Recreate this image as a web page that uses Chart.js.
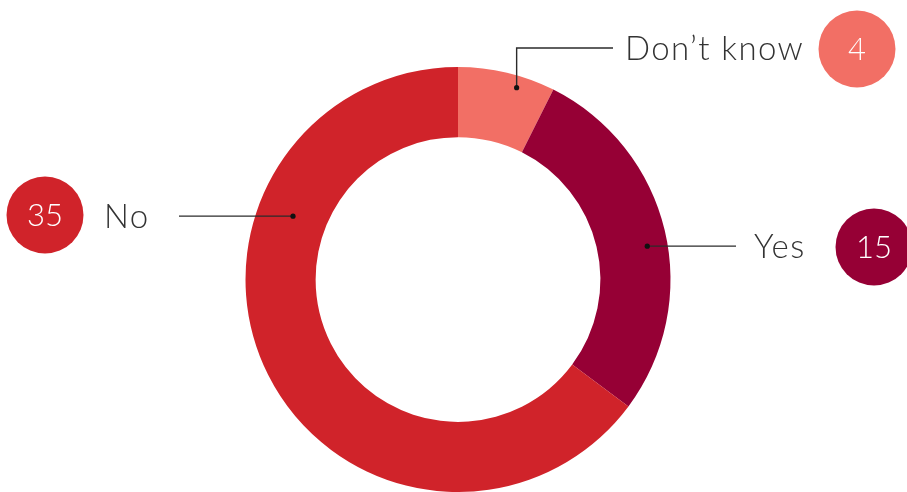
<!DOCTYPE html>
<html>
<head>
<meta charset="utf-8">
<script src="https://cdn.jsdelivr.net/npm/chart.js@4/dist/chart.umd.min.js"></script>
<style>
  html, body { margin: 0; padding: 0; background: #fff; }
  #wrap { width: 907px; height: 492px; position: relative; }
</style>
</head>
<body>
<div id="wrap"><canvas id="chart"></canvas></div>
<script>
const labels = ["Don\u2019t know", "Yes", "No"];
const values = [4, 15, 35];
const colors = ["#F26F65", "#960035", "#D0232A"];

/* Callouts: where the dot sits on the ring (degrees from top, depth in ring),
   and where the leader line, label and number badge go */
const callouts = [
    { angle: 17, depth: 0.83, elbowY: 48, lineEnd: 613, textX: 625, badgeX: 857, badgeY: 49 },
    { angle: 80, depth: 0.71, elbowY: null, lineEnd: 736, textX: 754, badgeX: 874, badgeY: 247 },
    { angle: 291, depth: 0.49, elbowY: null, lineEnd: 179, textX: 104, badgeX: 45, badgeY: 215 }
];

const calloutPlugin = {
    id: "callouts",
    afterDraw(chart) {
        const ctx = chart.ctx;
        const arcs = chart.getDatasetMeta(0).data;
        callouts.forEach((c, i) => {
            const arc = arcs[i];
            const r = arc.innerRadius + (arc.outerRadius - arc.innerRadius) * c.depth;
            const a = (c.angle - 90) * Math.PI / 180;
            const dx = arc.x + r * Math.cos(a);
            const dy = arc.y + r * Math.sin(a);
            const ly = c.elbowY !== null ? c.elbowY : dy;

            ctx.save();
            ctx.strokeStyle = "#2b2b2b";
            ctx.lineWidth = 1.4;
            ctx.beginPath();
            ctx.moveTo(dx, dy);
            if (c.elbowY !== null) ctx.lineTo(dx, ly);
            ctx.lineTo(c.lineEnd, ly);
            ctx.stroke();

            ctx.fillStyle = "#111";
            ctx.beginPath();
            ctx.arc(dx, dy, 2.6, 0, Math.PI * 2);
            ctx.fill();

            // label
            ctx.fillStyle = "#333";
            ctx.font = "300 33px Lato, 'Open Sans', sans-serif";
            ctx.letterSpacing = "1.4px";
            ctx.textAlign = "left";
            ctx.textBaseline = "middle";
            ctx.fillText(labels[i], c.textX, ly + 1);

            // number badge
            ctx.fillStyle = colors[i];
            ctx.beginPath();
            ctx.arc(c.badgeX, c.badgeY, 38.5, 0, Math.PI * 2);
            ctx.fill();
            ctx.fillStyle = "#fff";
            ctx.letterSpacing = "0px";
            ctx.font = "300 31px Lato, 'Open Sans', sans-serif";
            ctx.textAlign = "center";
            ctx.fillText(String(values[i]), c.badgeX, c.badgeY + 1);
            ctx.restore();
        });
    }
};

new Chart(document.getElementById("chart"), {
    type: "doughnut",
    data: {
        labels: labels,
        datasets: [{
            data: values,
            backgroundColor: colors,
            borderWidth: 0
        }]
    },
    options: {
        responsive: true,
        maintainAspectRatio: false,
        animation: false,
        cutout: "67%",
        layout: { padding: { left: 245, right: 236, top: 67, bottom: 0 } },
        plugins: {
            legend: { display: false },
            tooltip: { enabled: false }
        }
    },
    plugins: [calloutPlugin]
});
</script>
</body>
</html>
